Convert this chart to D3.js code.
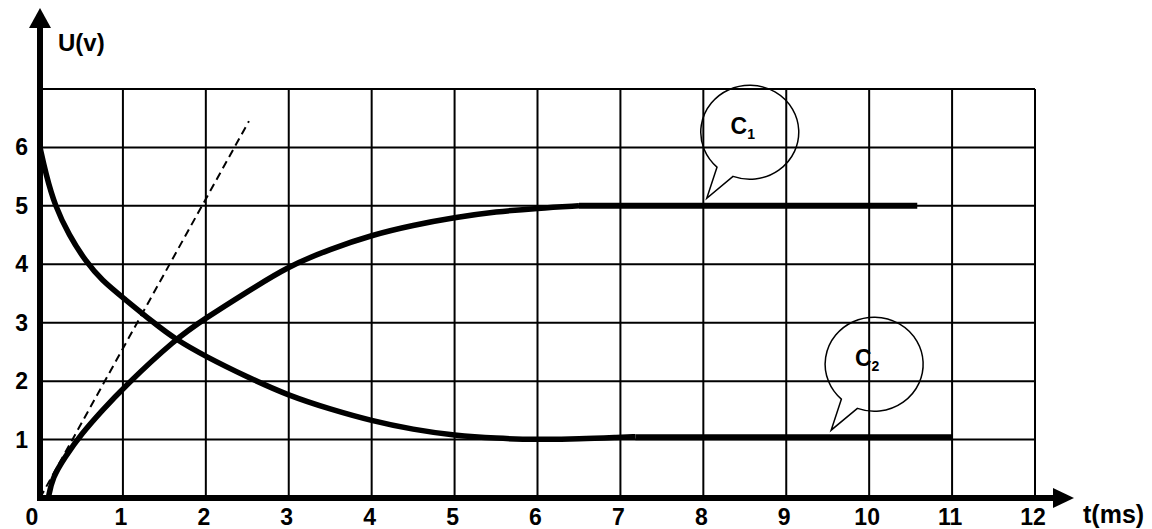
<!DOCTYPE html>
<html>
<head>
<meta charset="utf-8">
<script src="https://cdn.jsdelivr.net/npm/d3@7"></script>
<style>
  body { margin: 0; background: #fff; }
  svg { display: block; }
  text { font-family: "Liberation Sans", Arial, sans-serif; font-weight: bold; fill: #000; }
</style>
</head>
<body>
<div id="chart"></div>
<script>
// values
var xTicks = [0, 1, 2, 3, 4, 5, 6, 7, 8, 9, 10, 11, 12];
var yTicks = [1, 2, 3, 4, 5, 6];
var yGridTop = 7;

// C1 : charge curve, then the 5 V plateau
var c1T = [0.1, 0.15, 0.3, 0.5, 0.75, 1, 1.63, 2, 2.5, 3, 3.5, 4, 4.5, 5, 5.5, 6, 6.5];
var c1U = [0, 0.35, 0.7, 1.1, 1.5, 1.88, 2.72, 3.08, 3.53, 3.97, 4.26, 4.5, 4.67, 4.8, 4.9, 4.96, 5.0];
var c1FlatT = [6.5, 10.58];
var c1FlatU = [5.0, 5.0];

// C2 : discharge curve, then the ~1 V plateau
var c2T = [0, 0.07, 0.18, 0.35, 0.55, 0.75, 1, 1.37, 1.63, 2, 2.5, 3, 3.5, 4, 4.5, 5, 5.5, 6, 6.5, 7, 7.18];
var c2U = [6, 5.55, 5, 4.5, 4.05, 3.72, 3.43, 3.0, 2.72, 2.42, 2.07, 1.75, 1.52, 1.32, 1.17, 1.07, 1.02, 1.0, 1.01, 1.04, 1.05];
var c2FlatT = [7.18, 11];
var c2FlatU = [1.04, 1.04];

// tangent at the origin (dashed)
var tanT = [0, 2.52];
var tanU = [0, 6.45];

// callouts: label, subscript, bubble centre (t, U)
var calloutLabels = ['C', 'C'];
var calloutSubs = ['1', '2'];
var calloutT = [8.56, 10.06];
var calloutU = [6.26, 2.29];

var W = 1152, H = 529;
var x = d3.scaleLinear().domain([0, 12]).range([40, 1035]);
var y = d3.scaleLinear().domain([0, 7]).range([498, 89]);

var svg = d3.select('#chart').append('svg')
  .attr('width', W)
  .attr('height', H);

function pts(ts, us) {
  return ts.map(function(t, i) { return [t, us[i]]; });
}

// grid
var grid = svg.append('g').attr('stroke', '#000').attr('stroke-width', 2);
grid.selectAll('line.v')
  .data(xTicks.slice(1))
  .enter().append('line')
  .attr('class', 'v')
  .attr('x1', function(d) { return x(d); })
  .attr('x2', function(d) { return x(d); })
  .attr('y1', y(yGridTop))
  .attr('y2', y(0));
grid.selectAll('line.h')
  .data(yTicks.concat([yGridTop]))
  .enter().append('line')
  .attr('class', 'h')
  .attr('x1', x(0))
  .attr('x2', x(12))
  .attr('y1', function(d) { return y(d); })
  .attr('y2', function(d) { return y(d); });

// curves
var line = d3.line()
  .x(function(d) { return x(d[0]); })
  .y(function(d) { return y(d[1]); });
var smooth = d3.line()
  .x(function(d) { return x(d[0]); })
  .y(function(d) { return y(d[1]); })
  .curve(d3.curveBasis);

svg.append('path')
  .attr('d', line(pts(tanT, tanU)))
  .attr('fill', 'none')
  .attr('stroke', '#000')
  .attr('stroke-width', 2)
  .attr('stroke-dasharray', '8,5');

svg.append('path')
  .attr('d', smooth(pts(c1T, c1U)))
  .attr('fill', 'none').attr('stroke', '#000').attr('stroke-width', 5.5);
svg.append('path')
  .attr('d', line(pts(c1FlatT, c1FlatU)))
  .attr('fill', 'none').attr('stroke', '#000').attr('stroke-width', 6);

svg.append('path')
  .attr('d', smooth(pts(c2T, c2U)))
  .attr('fill', 'none').attr('stroke', '#000').attr('stroke-width', 5.5);
svg.append('path')
  .attr('d', line(pts(c2FlatT, c2FlatU)))
  .attr('fill', 'none').attr('stroke', '#000').attr('stroke-width', 6);

// axes with arrows
var x0 = x(0), y0 = y(0);
svg.append('line')
  .attr('x1', x0).attr('y1', y0 + 3)
  .attr('x2', x0).attr('y2', 27)
  .attr('stroke', '#000').attr('stroke-width', 6);
svg.append('path')
  .attr('d', 'M' + x0 + ',8L' + (x0 - 11) + ',28L' + (x0 + 11) + ',28Z')
  .attr('fill', '#000');
svg.append('line')
  .attr('x1', x0 - 3).attr('y1', y0)
  .attr('x2', 1055).attr('y2', y0)
  .attr('stroke', '#000').attr('stroke-width', 6);
svg.append('path')
  .attr('d', 'M1074,' + y0 + 'L1053,' + (y0 - 10) + 'L1053,' + (y0 + 10) + 'Z')
  .attr('fill', '#000');

// tick labels
svg.selectAll('text.xt')
  .data(xTicks)
  .enter().append('text')
  .attr('class', 'xt')
  .attr('x', function(d) { return d == 0 ? x(d) - 8 : x(d) - 2; })
  .attr('y', 525)
  .attr('text-anchor', 'middle')
  .attr('font-size', 23)
  .text(function(d) { return d; });
svg.selectAll('text.yt')
  .data(yTicks)
  .enter().append('text')
  .attr('class', 'yt')
  .attr('x', 28)
  .attr('y', function(d) { return y(d) + 8; })
  .attr('text-anchor', 'end')
  .attr('font-size', 23)
  .text(function(d) { return d; });

svg.append('text').attr('x', 58).attr('y', 51).attr('font-size', 24).text('U(v)');
svg.append('text').attr('x', 1083).attr('y', 523).attr('font-size', 25).text('t(ms)');

// speech bubbles
var rx = 49, ry = 47;
var aA = 132 * Math.PI / 180, aB = 110 * Math.PI / 180;
function bubble(cx, cy) {
  var ax = cx + rx * Math.cos(aA), ay = cy + ry * Math.sin(aA);
  var bx = cx + rx * Math.cos(aB), by = cy + ry * Math.sin(aB);
  return 'M' + ax + ',' + ay +
    'A' + rx + ',' + ry + ' 0 1 1 ' + bx + ',' + by +
    'L' + (cx - 43) + ',' + (cy + 66) + 'Z';
}
calloutLabels.forEach(function(lab, i) {
  var cx = x(calloutT[i]), cy = y(calloutU[i]);
  svg.append('path')
    .attr('d', bubble(cx, cy))
    .attr('fill', 'none')
    .attr('stroke', '#000')
    .attr('stroke-width', 1.5)
    .attr('stroke-linejoin', 'miter');
  var t = svg.append('text')
    .attr('x', cx - 7)
    .attr('y', cy + 2)
    .attr('text-anchor', 'middle')
    .attr('font-size', 23);
  t.append('tspan').text(lab);
  t.append('tspan').attr('font-size', 14).attr('dy', 5).text(calloutSubs[i]);
});
</script>
</body>
</html>
